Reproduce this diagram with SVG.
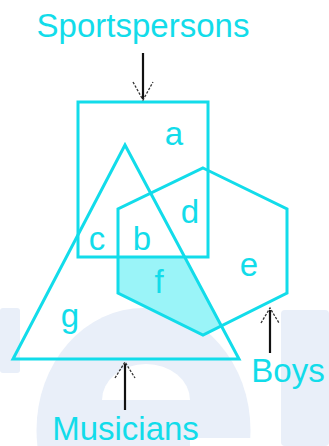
<svg xmlns="http://www.w3.org/2000/svg" width="329" height="446" viewBox="0 0 329 446">
<style>
.shape{fill:none;stroke:#12dcea;stroke-width:3;stroke-linejoin:miter}
.lbl{font-family:"Liberation Sans",Arial,sans-serif;font-size:33px;fill:#12dcea;text-anchor:middle}
.wm{fill:#e9eff9}
.shaft{stroke:#111;stroke-width:2.2;fill:none}
.head{stroke:#333;stroke-width:1.3;fill:none;stroke-dasharray:2.5 1.5}
</style>
<rect width="329" height="446" fill="#ffffff"/>
<g id="watermark">
<ellipse class="wm" cx="143.5" cy="430" rx="107" ry="122"/>
<path d="M102,400 A44,36 0 0 1 190,400 Z" fill="#ffffff"/>
<rect x="190" y="438" width="65" height="8" fill="#ffffff"/>
<rect class="wm" x="0" y="308" width="20" height="65" rx="3"/>
<rect class="wm" x="281" y="310" width="48" height="136" rx="4"/>
</g>
<g id="region-f-fill">
<polygon points="118,257 184.7,257 221.2,325.7 202.5,335 118,293" fill="#9af4f8"/>
</g>
<g id="sportspersons">
<rect class="shape" x="78" y="102" width="130" height="155"/>
</g>
<g id="boys">
<polygon class="shape" points="203,168 287,209 287,293 203,335 118,293 118,209"/>
</g>
<g id="musicians">
<polygon class="shape" points="125,145 239,359 13,359"/>
</g>
<g id="connectors">
<line class="shaft" x1="143" y1="53" x2="143" y2="99"/>
<polyline class="head" points="133,82 143,100 153,82"/>
<line class="shaft" x1="125" y1="410" x2="125" y2="364"/>
<polyline class="head" points="115,378 125,362 135,378"/>
<line class="shaft" x1="270" y1="353" x2="270" y2="310"/>
<polyline class="head" points="261,323 270,308 279,323"/>
</g>
<g id="titles">
<text class="lbl" x="143" y="37">Sportspersons</text>
<text class="lbl" x="125.5" y="440">Musicians</text>
<text class="lbl" x="288" y="382">Boys</text>
</g>
<g id="region-labels">
<text class="lbl" x="174" y="145">a</text>
<text class="lbl" x="142" y="250">b</text>
<text class="lbl" x="97" y="250">c</text>
<text class="lbl" x="190" y="223">d</text>
<text class="lbl" x="249" y="276">e</text>
<text class="lbl" x="159" y="293">f</text>
<text class="lbl" x="70" y="327">g</text>
</g>
</svg>
